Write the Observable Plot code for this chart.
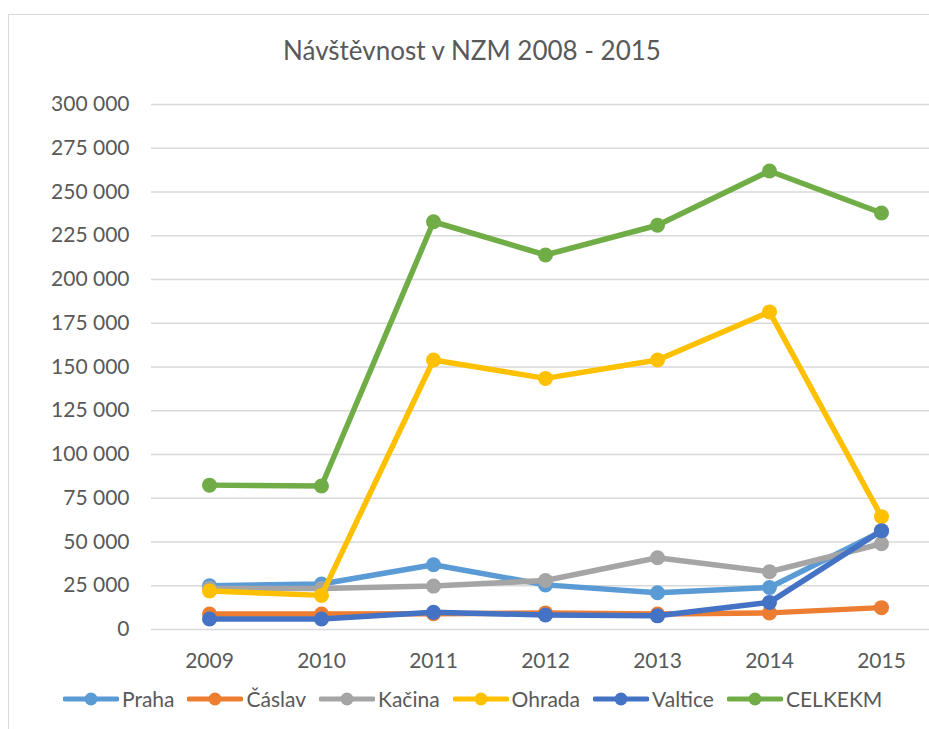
<!DOCTYPE html>
<html><head><meta charset="utf-8">
<script src="https://cdn.jsdelivr.net/npm/d3@7"></script>
<script src="https://cdn.jsdelivr.net/npm/@observablehq/plot@0.6"></script>
<style>
html,body{margin:0;padding:0;background:#fff;overflow:hidden;}
#wrap{position:relative;width:929px;height:729px;overflow:hidden;font-family:Lato,sans-serif;color:#595959;}
#frame{position:absolute;left:8px;top:14px;width:1000px;height:800px;border:1.5px solid #d9d9d9;box-sizing:border-box;}
#title{position:absolute;left:0;width:944px;top:35px;text-align:center;font-size:26px;line-height:1.2;}
#chart{position:absolute;left:0;top:0;width:940px;}
#chart svg{max-width:none !important;}
#legend{position:absolute;left:63px;top:686px;height:25px;display:flex;align-items:center;font-size:21px;line-height:25px;white-space:nowrap;}
.item{display:flex;align-items:center;margin-right:13px;}
.item svg{margin-right:3px;}
</style></head><body>
<div id="wrap"><div id="frame"></div><div id="chart"></div><div id="title">Návštěvnost v NZM 2008 - 2015</div><div id="legend"></div></div>
<script>
const years = ["2009","2010","2011","2012","2013","2014","2015"];
const series = ["Praha","Čáslav","Kačina","Ohrada","Valtice","CELKEKM"];
const colors = ["#5B9BD5","#ED7D31","#A5A5A5","#FFC000","#4472C4","#70AD47"];
const yTicks = [0,25000,50000,75000,100000,125000,150000,175000,200000,225000,250000,275000,300000];
const praha   = [25000, 26000, 37000, 25500, 21000, 24000, 56000];
const caslav  = [8800, 8800, 9000, 9500, 8800, 9500, 12500];
const kacina  = [23500, 23500, 24800, 28000, 41000, 33000, 49000];
const ohrada  = [22000, 19500, 154000, 143500, 154000, 181500, 64500];
const valtice = [6000, 6000, 9800, 8300, 7800, 15500, 56500];
const celkem  = [82500, 82000, 233000, 214000, 231000, 262000, 238000];
const values = [praha, caslav, kacina, ohrada, valtice, celkem];

const data = [];
series.forEach((s,i) => values[i].forEach((v,j) => data.push({series:s, year:years[j], value:v})));
const fmt = d => d3.format(",")(d).replace(/,/g, " ");

const marks = [Plot.ruleY(yTicks, {stroke:"#d9d9d9", strokeWidth:1.5})];
series.forEach(s => {
  const d = data.filter(r => r.series === s);
  marks.push(Plot.line(d, {x:"year", y:"value", stroke:"series", strokeWidth:5.5}));
  marks.push(Plot.dot(d, {x:"year", y:"value", fill:"series", r:7.5}));
});

const chart = Plot.plot({
  width:940, height:680,
  marginLeft:151, marginRight:1, marginTop:104, marginBottom:51,
  x:{type:"point", domain:years, padding:0.5, label:null, tickSize:0, tickPadding:24},
  y:{domain:[0,300000], ticks:yTicks, tickFormat:fmt, label:null, tickSize:0, tickPadding:22},
  color:{domain:series, range:colors},
  style:{fontFamily:"Lato, sans-serif", fontSize:"21px", color:"#595959", background:"transparent", maxWidth:"none"},
  marks
});
document.getElementById("chart").appendChild(chart);

const legend = document.getElementById("legend");
series.forEach((s,i) => {
  const item = document.createElement("div");
  item.className = "item";
  item.innerHTML = `<svg width="56" height="16"><line x1="2" y1="8" x2="54" y2="8" stroke="${colors[i]}" stroke-width="5" stroke-linecap="round"/><circle cx="28" cy="8" r="6.5" fill="${colors[i]}"/></svg><span>${s}</span>`;
  legend.appendChild(item);
});
</script>
</body></html>
